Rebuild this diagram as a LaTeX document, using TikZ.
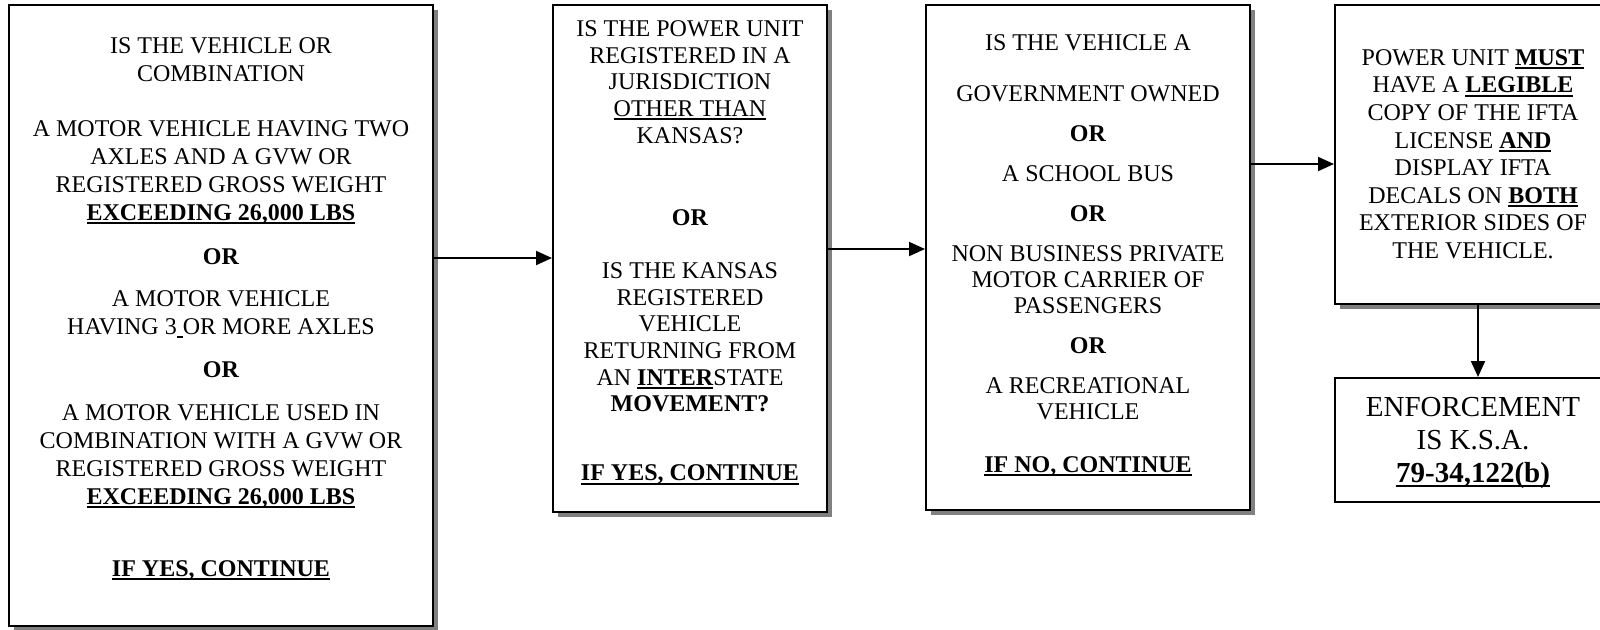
\documentclass[tikz,border=0pt]{standalone}
\usepackage{fontspec}
\setmainfont{Liberation Serif}
\usetikzlibrary{arrows.meta,shadows}
\definecolor{myShadowGray}{RGB}{128, 128, 128}
\newcommand{\ulin}[1]{\setbox0\hbox{#1}\rlap{\vrule height -1pt depth 2pt width \wd0}\box0}

\begin{document}
\begin{tikzpicture}[x=0.5pt,y=-0.5pt,
		frame/.style={draw, line width=1pt, fill=white, inner sep=0pt},
		shadowed/.style={drop shadow={shadow xshift=2.5pt, shadow yshift=-2.5pt, fill=myShadowGray, opacity=1}},
		txt/.style={anchor=north, align=center, inner sep=0pt},
		>={Triangle[length=8pt,width=7pt]}]
			\clip (0,0) rectangle (1600,629);

			\draw (221,315.5) node[frame, shadowed, minimum width=212pt, minimum height=310.5pt] (Q1) {};
			\draw (690,258.5) node[frame, shadowed, minimum width=137pt, minimum height=253.5pt] (Q2) {};
			\draw (1088,257.5) node[frame, shadowed, minimum width=162pt, minimum height=252.5pt] (Q3) {};
			\draw (1473.5,154.5) node[frame, shadowed, minimum width=138.5pt, minimum height=149.5pt] (P) {};
			\draw (1473.5,440) node[frame, minimum width=138.5pt, minimum height=62pt] (E) {};

			\draw (221,37) node[txt, font=\fontsize{12}{14}\selectfont] (Q1t) {IS THE VEHICLE OR\\COMBINATION\\[13.5pt]
				A MOTOR VEHICLE HAVING TWO\\AXLES AND A GVW OR\\REGISTERED GROSS WEIGHT\\\ulin{\textbf{EXCEEDING 26,000 LBS}}\\[8pt]
				\textbf{OR}\\[7pt]
				A MOTOR VEHICLE\\HAVING 3\ulin{\ }OR MORE AXLES\\[7.5pt]
				\textbf{OR}\\[7.5pt]
				A MOTOR VEHICLE USED IN\\COMBINATION WITH A GVW OR\\REGISTERED GROSS WEIGHT\\\ulin{\textbf{EXCEEDING 26,000 LBS}}\\[22pt]
				\ulin{\textbf{IF YES, CONTINUE}}};
			\draw (690,20) node[txt, font=\fontsize{12}{13.35}\selectfont] (Q2t) {IS THE POWER UNIT\\REGISTERED IN A\\JURISDICTION\\\ulin{OTHER THAN}\\KANSAS?\\[27.7pt]
				\textbf{OR}\\[13.2pt]
				IS THE KANSAS\\REGISTERED\\VEHICLE\\RETURNING FROM\\AN \ulin{\textbf{INTER}}STATE\\\textbf{MOVEMENT?}\\[21.2pt]
				\ulin{\textbf{IF YES, CONTINUE}}};
			\draw (1088,34) node[txt, font=\fontsize{12}{13}\selectfont] (Q3t) {IS THE VEHICLE A\\[12.5pt]
				GOVERNMENT OWNED\\[7pt]
				\textbf{OR}\\[7pt]
				A SCHOOL BUS\\[7pt]
				\textbf{OR}\\[7pt]
				NON BUSINESS PRIVATE\\MOTOR CARRIER OF\\PASSENGERS\\[7pt]
				\textbf{OR}\\[7pt]
				A RECREATIONAL\\VEHICLE\\[13.5pt]
				\ulin{\textbf{IF NO, CONTINUE}}};
			\draw (1473,49) node[txt, font=\fontsize{12}{13.8}\selectfont] (Pt) {POWER UNIT \ulin{\textbf{MUST}}\\HAVE A \ulin{\textbf{LEGIBLE}}\\COPY OF THE IFTA\\LICENSE \ulin{\textbf{AND}}\\DISPLAY IFTA\\DECALS ON \ulin{\textbf{BOTH}}\\EXTERIOR SIDES OF\\THE VEHICLE.};
			\draw (1473,397) node[txt, font=\fontsize{14.5}{16.5}\selectfont] (Et) {ENFORCEMENT\\IS K.S.A.\\\ulin{\textbf{79-34,122(b)}}};

			\coordinate (y1) at (0,258);
			\coordinate (y2) at (0,249);
			\coordinate (y3) at (0,164);
			\coordinate (x4) at (1478,0);

			\path[->, line width=1pt]
			(Q1.east |- y1) edge (Q2.west |- y1)
			(Q2.east |- y2) edge (Q3.west |- y2)
			(Q3.east |- y3) edge (P.west |- y3)
			(P.south -| x4) edge (E.north -| x4)
			;
		\end{tikzpicture}
\end{document}
